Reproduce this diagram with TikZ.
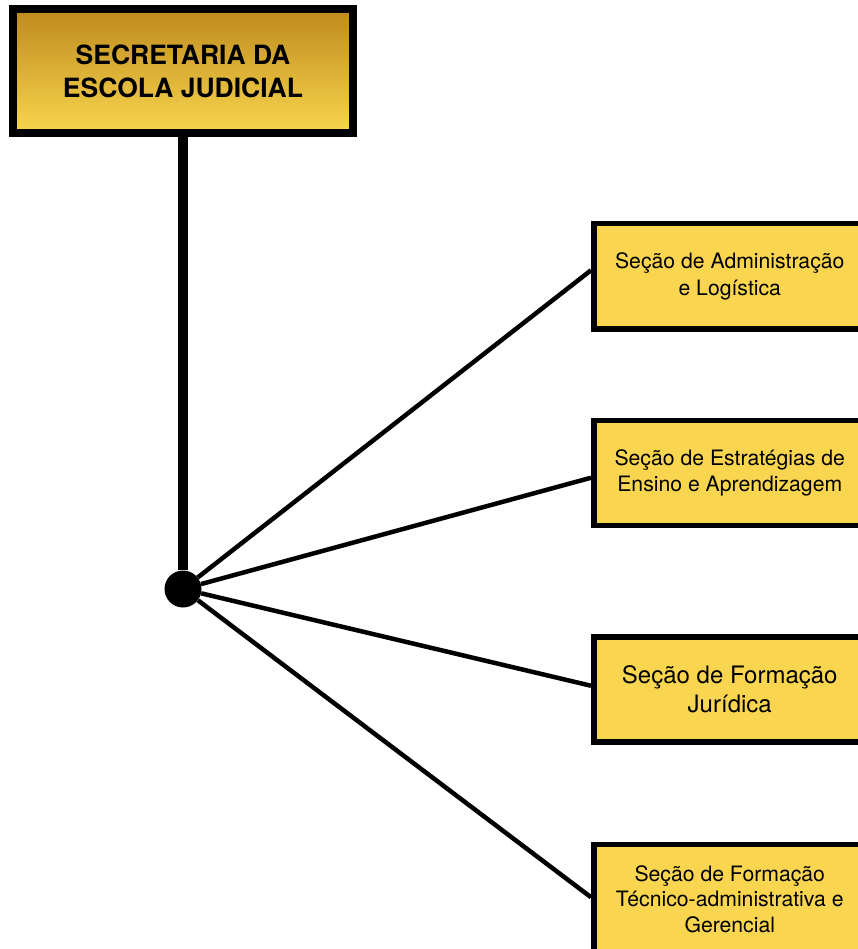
\documentclass[tikz,border=0pt]{standalone}
\usepackage{fontspec}
\setmainfont{TeX Gyre Heros}
\usepackage{xcolor}
\usetikzlibrary{positioning}
\usetikzlibrary{calc}

\definecolor{ouroescuro}{RGB}{191,138,30}
\definecolor{ouroclaro}{RGB}{248,214,78}
\definecolor{amarelo}{RGB}{250,214,80}

\tikzset{
  secretaria/.style={draw=black, line width=8pt, top color=ouroescuro, bottom color=ouroclaro,
    minimum width=340pt, minimum height=124pt, align=center, inner sep=0pt,
    font=\bfseries\fontsize{26.5}{33}\selectfont},
  secao/.style={draw=black, line width=5.5pt, fill=amarelo, anchor=north west,
    minimum width=272pt, minimum height=105pt, align=center, inner sep=0pt,
    font=\fontsize{21.2}{26.5}\selectfont},
  tronco/.style={line width=10pt},
  ramo/.style={line width=4.5pt}
}

\begin{document}
\begin{tikzpicture}[x=1pt,y=-1pt]
\useasboundingbox (0,0) rectangle (858,949);
\clip (0,0) rectangle (858,949);

\node[secretaria] (sej) at (183,71) {SECRETARIA DA\\ESCOLA JUDICIAL};
\node[circle, fill=black, minimum size=37pt, inner sep=0pt] (hub) at (183,589) {};

\node[secao] (adm) at (591,221) {\rule{0pt}{10pt}Seção de Administração\\e Logística};
\node[secao, below=86pt of adm] (ens) {\rule{0pt}{10pt}Seção de Estratégias de\\Ensino e Aprendizagem};
\node[secao, below=106pt of ens, font=\fontsize{24}{29}\selectfont] (jur) {Seção de Formação\\Jurídica};
\node[secao, below=97pt of jur, minimum height=110pt, font=\fontsize{21.2}{25.5}\selectfont] (ger) {Seção de Formação\\Técnico-administrativa e\\Gerencial};

\draw[tronco] (sej.south) -- (hub);
\draw[ramo] (hub) -- ([yshift=6pt]adm.west);
\draw[ramo] (hub) -- ([yshift=-5pt]ens.west);
\draw[ramo] (hub) -- ([yshift=3.5pt]jur.west);
\draw[ramo] (hub) -- ([yshift=2pt]ger.west);
\end{tikzpicture}
\end{document}
